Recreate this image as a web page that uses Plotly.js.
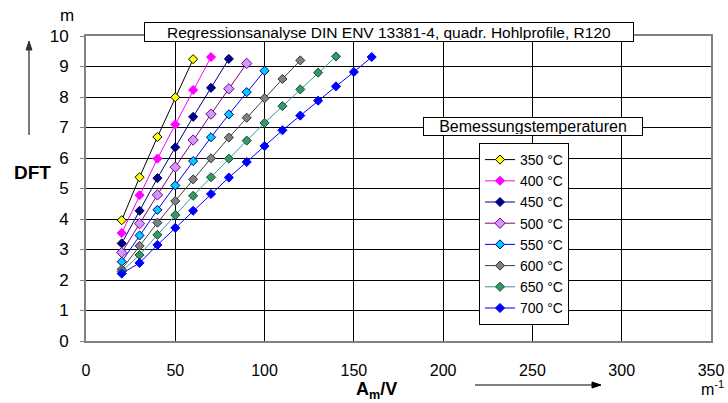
<!DOCTYPE html>
<html>
<head>
<meta charset="utf-8">
<script src="https://cdn.plot.ly/plotly-3.0.1.min.js"></script>
<style>html,body{margin:0;padding:0;background:#fff;}#chart{width:728px;height:403px;}</style>
</head>
<body>
<div id="chart"></div>
<script>
// ---- data ----
const seriesNames = ["350 °C","400 °C","450 °C","500 °C","550 °C","600 °C","650 °C","700 °C"];
const x350 = [20,30,40,50,60];
const y350 = [3.96,5.37,6.69,7.99,9.24];
const x400 = [20,30,40,50,60,70];
const y400 = [3.54,4.78,5.98,7.10,8.23,9.31];
const x450 = [20,30,40,50,60,70,80];
const y450 = [3.20,4.27,5.34,6.35,7.35,8.30,9.25];
const x500 = [20,30,40,50,60,70,80,90];
const y500 = [2.90,3.85,4.79,5.70,6.59,7.44,8.27,9.10];
const x550 = [20,30,40,50,60,70,80,90,100];
const y550 = [2.60,3.46,4.30,5.10,5.90,6.68,7.43,8.16,8.86];
const x600 = [20,30,40,50,60,70,80,90,100,110,120];
const y600 = [2.35,3.12,3.88,4.59,5.30,5.99,6.67,7.32,7.96,8.59,9.20];
const x650 = [20,30,40,50,60,70,80,90,100,110,120,130,140];
const y650 = [2.28,2.82,3.48,4.13,4.76,5.37,5.98,6.57,7.15,7.70,8.25,8.80,9.33];
const x700 = [20,30,40,50,60,70,80,90,100,110,120,130,140,150,160];
const y700 = [2.21,2.56,3.15,3.71,4.27,4.82,5.36,5.87,6.39,6.91,7.39,7.88,8.35,8.82,9.31];
const xTicks = [0,50,100,150,200,250,300,350];
const yTicks = [0,1,2,3,4,5,6,7,8,9,10];

// ---- styles ----
const styles = [
  {line:"#000000", fill:"#FFFF00", edge:"#000000"},
  {line:"#FF00FF", fill:"#FF00FF", edge:"#FF00FF"},
  {line:"#000080", fill:"#000080", edge:"#000080"},
  {line:"#800080", fill:"#CC99FF", edge:"#800080"},
  {line:"#0000FF", fill:"#00CCFF", edge:"#000080"},
  {line:"#404040", fill:"#808080", edge:"#333333"},
  {line:"#339999", fill:"#339966", edge:"#1a4d33"},
  {line:"#0000FF", fill:"#0000FF", edge:"#0000FF"}
];
const xs = [x350,x400,x450,x500,x550,x600,x650,x700];
const ys = [y350,y400,y450,y500,y550,y600,y650,y700];

const traces = xs.map((x,i)=>({
  type:"scatter", mode:"lines+markers", name:seriesNames[i],
  x:x, y:ys[i],
  line:{color:styles[i].line, width:1},
  marker:{symbol:"diamond", size:i===3?8:7, color:styles[i].fill, line:{color:styles[i].edge, width:1}}
}));

const FONT = "Arial, 'Liberation Sans', sans-serif";
const L=86, R=17, T=36, B=62, W=728, H=403;
const pw = W-L-R, ph = H-T-B;
const px = v => (v-L)/pw;
const py = v => (H-B-v)/ph;

const layout = {
  width:W, height:H,
  margin:{l:L, r:R, t:T, b:B, pad:0},
  paper_bgcolor:"#ffffff", plot_bgcolor:"#ffffff",
  font:{family:FONT, size:16, color:"#000"},
  showlegend:true,
  legend:{x:px(479), y:py(143), xanchor:"left", yanchor:"top",
    bgcolor:"#ffffff", bordercolor:"#000000", borderwidth:1,
    font:{family:FONT, size:14, color:"#000"}, tracegroupgap:0},
  xaxis:{range:[0,350], tickvals:xTicks, ticktext:xTicks.map(String),
    showgrid:true, gridcolor:"#000000", gridwidth:1,
    zeroline:false, showline:true, linecolor:"#808080", linewidth:2, mirror:true,
    ticks:"", ticklabelstandoff:14, tickfont:{family:FONT, size:16}, fixedrange:true},
  yaxis:{range:[0,10], tickvals:yTicks, ticktext:yTicks.map(String),
    showgrid:true, gridcolor:"#000000", gridwidth:1,
    zeroline:false, showline:true, linecolor:"#808080", linewidth:2, mirror:true,
    ticks:"outside", ticklen:4, tickcolor:"#808080", ticklabelstandoff:8,
    tickfont:{family:FONT, size:17}, fixedrange:true},
  shapes:[
    // vertical arrow next to the y title
    {type:"line", xref:"paper", yref:"paper", x0:px(29), x1:px(29), y0:py(135), y1:py(48),
     line:{color:"#333333", width:1.3}},
    {type:"path", xref:"paper", yref:"paper",
     path:`M ${px(26)} ${py(50)} L ${px(29)} ${py(41)} L ${px(32)} ${py(50)} Z`,
     fillcolor:"#333333", line:{color:"#333333", width:1}},
    // horizontal arrow next to the x title
    {type:"line", xref:"paper", yref:"paper", x0:px(475), x1:px(594), y0:py(385), y1:py(385),
     line:{color:"#000000", width:1.1}},
    {type:"path", xref:"paper", yref:"paper",
     path:`M ${px(592)} ${py(382)} L ${px(601)} ${py(385)} L ${px(592)} ${py(388)} Z`,
     fillcolor:"#000000", line:{color:"#000000", width:1}}
  ],
  annotations:[
    {xref:"paper", yref:"paper", x:px(389), y:py(32), xanchor:"center", yanchor:"middle",
     text:"Regressionsanalyse DIN ENV 13381-4, quadr. Hohlprofile, R120", showarrow:false,
     width:486, height:16, align:"center", bgcolor:"#ffffff", bordercolor:"#000000", borderwidth:1, borderpad:1,
     font:{family:FONT, size:15.5, color:"#000"}},
    {xref:"paper", yref:"paper", x:px(533), y:py(127), xanchor:"center", yanchor:"middle",
     text:"Bemessungstemperaturen", showarrow:false,
     width:216, height:15, align:"center", bgcolor:"#ffffff", bordercolor:"#000000", borderwidth:1, borderpad:1,
     font:{family:FONT, size:16, color:"#000"}},
    {xref:"paper", yref:"paper", x:px(67), y:py(16), xanchor:"center", yanchor:"middle",
     text:"m", showarrow:false, font:{family:FONT, size:17, color:"#000"}},
    {xref:"paper", yref:"paper", x:px(32), y:py(172), xanchor:"center", yanchor:"middle",
     text:"<b>DFT</b>", showarrow:false, font:{family:FONT, size:19, color:"#000"}},
    {xref:"paper", yref:"paper", x:px(376), y:py(390), xanchor:"center", yanchor:"middle",
     text:"<b>A<sub>m</sub>/V</b>", showarrow:false, font:{family:FONT, size:18, color:"#000"}},
    {xref:"paper", yref:"paper", x:px(712), y:py(388), xanchor:"center", yanchor:"middle",
     text:"m<sup>-1</sup>", showarrow:false, font:{family:FONT, size:16, color:"#000"}}
  ]
};

Plotly.newPlot("chart", traces, layout, {displayModeBar:false, staticPlot:true});
</script>
</body>
</html>
